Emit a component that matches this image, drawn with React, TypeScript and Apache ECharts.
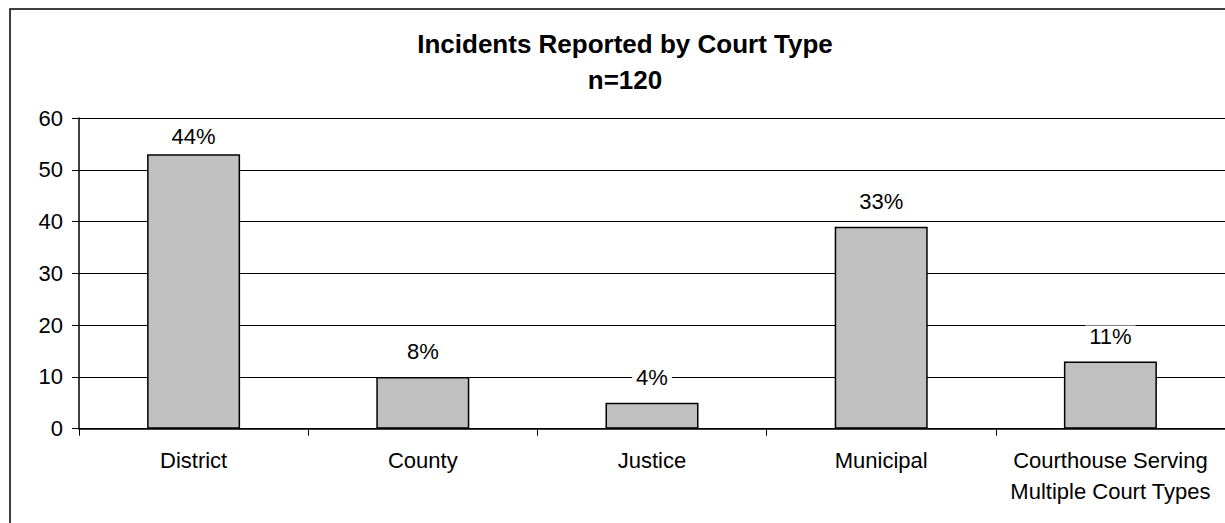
import React, { useEffect, useRef } from "react";
import * as echarts from "echarts";

const categories = [
  "District",
  "County",
  "Justice",
  "Municipal",
  "Courthouse Serving\nMultiple Court Types",
];
const incidentCounts = [53, 10, 5, 39, 13];
const percentLabels = ["44%", "8%", "4%", "33%", "11%"];
const titleLines = ["Incidents Reported by Court Type", "n=120"];
const yTicks = { min: 0, max: 60, interval: 10 };

const FONT = "'Liberation Sans', Arial, Helvetica, sans-serif";

export default function App() {
  const ref = useRef<HTMLDivElement>(null);
  useEffect(() => {
    if (!ref.current) return;
    const chart = echarts.init(ref.current, undefined, { renderer: "svg" });
    const barData = incidentCounts.map((v, i) =>
      i === 0 ? { value: v, label: { distance: 7 } } : { value: v }
    );
    chart.setOption({
      animation: false,
      backgroundColor: "#fff",
      textStyle: { fontFamily: FONT },
      grid: { left: 79, top: 118, right: -4, bottom: 94.3, containLabel: false },
      graphic: [
        {
          type: "rect",
          shape: { x: 10, y: 9, width: 1400, height: 700 },
          style: { fill: "none", stroke: "#000", lineWidth: 1.5 },
          silent: true,
          z: -1,
        },
        {
          type: "text",
          style: {
            text: titleLines[0],
            x: 625,
            y: 43.5,
            textAlign: "center",
            textVerticalAlign: "middle",
            font: `bold 26px ${FONT}`,
            fill: "#000",
          },
        },
        {
          type: "text",
          style: {
            text: titleLines[1],
            x: 625,
            y: 80,
            textAlign: "center",
            textVerticalAlign: "middle",
            font: `bold 26px ${FONT}`,
            fill: "#000",
          },
        },
      ],
      xAxis: {
        type: "category",
        data: categories,
        boundaryGap: true,
        axisLine: { show: true, lineStyle: { color: "#000", width: 1.5 } },
        axisTick: { show: true, length: 7, lineStyle: { color: "#000", width: 1 } },
        axisLabel: {
          color: "#000",
          fontSize: 22,
          lineHeight: 31,
          margin: 16,
          fontFamily: FONT,
          interval: 0,
        },
        splitLine: { show: false },
      },
      yAxis: {
        type: "value",
        min: yTicks.min,
        max: yTicks.max,
        interval: yTicks.interval,
        axisLine: { show: true, lineStyle: { color: "#000", width: 1.5 } },
        axisTick: { show: true, length: 7, lineStyle: { color: "#000", width: 1 } },
        axisLabel: { color: "#000", fontSize: 22, margin: 16, fontFamily: FONT },
        splitLine: { show: true, lineStyle: { color: "#000", width: 1 } },
      },
      series: [
        {
          type: "bar",
          data: barData,
          barWidth: 93,
          itemStyle: { color: "#c0c0c0", borderColor: "#000", borderWidth: 1.5 },
          label: {
            show: true,
            position: "top",
            distance: 14,
            color: "#000",
            fontSize: 22,
            lineHeight: 22,
            fontFamily: FONT,
            backgroundColor: "#fff",
            padding: [0, 4],
            formatter: (p: any) => percentLabels[p.dataIndex],
          },
        },
      ],
    });
    return () => chart.dispose();
  }, []);
  return (
    <div
      ref={ref}
      style={{ position: "absolute", left: 0, top: 0, width: 1225, height: 523 }}
    />
  );
}
